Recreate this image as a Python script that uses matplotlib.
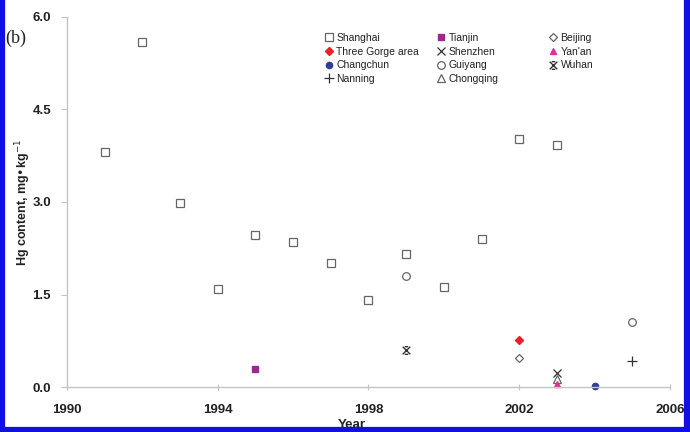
import matplotlib
matplotlib.use('Agg')
import matplotlib.pyplot as plt
from matplotlib.path import Path
from matplotlib.lines import Line2D

plt.rcParams['font.family'] = ['Liberation Sans', 'DejaVu Sans']

# Hg content (mg/kg) by city and year
shanghai_year = [1991, 1992, 1993, 1994, 1995, 1996, 1997, 1998, 1999, 2000, 2001, 2002, 2003]
shanghai_hg = [3.81, 5.59, 2.98, 1.59, 2.46, 2.35, 2.01, 1.41, 2.16, 1.62, 2.40, 4.02, 3.92]
tianjin_year, tianjin_hg = [1995], [0.29]
beijing_year, beijing_hg = [2002], [0.47]
gorge_year, gorge_hg = [2002], [0.76]
shenzhen_year, shenzhen_hg = [2003], [0.23]
yanan_year, yanan_hg = [2003], [0.05]
changchun_year, changchun_hg = [2004], [0.01]
guiyang_year, guiyang_hg = [1999, 2005], [1.80, 1.05]
wuhan_year, wuhan_hg = [1999], [0.60]
nanning_year, nanning_hg = [2005], [0.42]
chongqing_year, chongqing_hg = [2003], [0.13]

# x with short caps, like the Wuhan symbol
wuhan_marker = Path(
    [(-1, -1), (1, 1), (-1, 1), (1, -1), (-0.45, 1), (0.45, 1), (-0.45, -1), (0.45, -1)],
    [Path.MOVETO, Path.LINETO] * 4)

fig = plt.figure(figsize=(6.9, 4.32), dpi=100)
ax = fig.add_axes([0.097, 0.104, 0.874, 0.857])

gray = '#666666'
dark = '#333333'
# one list per legend column, rows read left to right
columns = [
    [('Shanghai', shanghai_year, shanghai_hg, dict(marker='s', ms=5.5, mfc='white', mec=gray, mew=0.9)),
     ('Three Gorge area', gorge_year, gorge_hg, dict(marker='D', ms=4, mfc='#e8202a', mec='#e8202a')),
     ('Changchun', changchun_year, changchun_hg, dict(marker='o', ms=4.5, mfc='#2f3f98', mec='#2f3f98')),
     ('Nanning', nanning_year, nanning_hg, dict(marker='+', ms=6.5, mec=dark, mew=0.9))],
    [('Tianjin', tianjin_year, tianjin_hg, dict(marker='s', ms=4.5, mfc='#9b2a8e', mec='#9b2a8e')),
     ('Shenzhen', shenzhen_year, shenzhen_hg, dict(marker='x', ms=5.5, mec=dark, mew=0.9)),
     ('Guiyang', guiyang_year, guiyang_hg, dict(marker='o', ms=5.5, mfc='white', mec=gray, mew=0.9)),
     ('Chongqing', chongqing_year, chongqing_hg, dict(marker='^', ms=5.5, mfc='white', mec=gray, mew=0.9))],
    [('Beijing', beijing_year, beijing_hg, dict(marker='D', ms=4.5, mfc='white', mec=gray, mew=0.9)),
     ("Yan'an", yanan_year, yanan_hg, dict(marker='^', ms=5, mfc='#e0309a', mec='#e0309a')),
     ('Wuhan', wuhan_year, wuhan_hg, dict(marker=wuhan_marker, ms=5.5, mfc='none', mec=dark, mew=1.0))],
]

legend_x = [325, 437, 549]
for col, lx in zip(columns, legend_x):
    handles = []
    for name, xs, ys, style in col:
        h, = ax.plot(xs, ys, linestyle='none', label=name, clip_on=False, **style)
        handles.append(h)
    leg = fig.legend(handles=handles, loc='upper left', bbox_to_anchor=(lx / 690, 1 - 33 / 432),
                     frameon=False, fontsize=7.5,
                     handlelength=0.8, handletextpad=0.3, labelspacing=0.35,
                     borderpad=0, borderaxespad=0)
    for t in leg.get_texts():
        t.set_color('#222222')

ax.set_xlim(1990, 2006)
ax.set_ylim(0, 6)
ax.set_xticks([1990, 1994, 1998, 2002, 2006])
ax.set_yticks([0.0, 1.5, 3.0, 4.5, 6.0])
ax.set_yticklabels(['0.0', '1.5', '3.0', '4.5', '6.0'])

for s in ['top', 'right']:
    ax.spines[s].set_visible(False)
for s in ['left', 'bottom']:
    ax.spines[s].set_color('#c4c4c4')
    ax.spines[s].set_linewidth(1.0)

ax.tick_params(axis='y', direction='out', length=4, color='#c4c4c4', pad=7.5,
               labelsize=9.5)
ax.tick_params(axis='x', direction='inout', length=5, color='#c4c4c4', pad=10,
               labelsize=9.5)
for lab in ax.get_xticklabels() + ax.get_yticklabels():
    lab.set_fontweight('bold')
    lab.set_color('#222222')

ax.set_xlabel('Year', fontsize=9.5, fontweight='bold', color='#222222')
ax.xaxis.set_label_coords(0.473, -0.085)
ax.set_ylabel('Hg content, mg•kg$^{-1}$', fontsize=9, fontweight='bold', color='#222222')
ax.yaxis.set_label_coords(-0.057, 0.5)

fig.text(0.008, 0.9, '(b)', family='Liberation Serif', fontsize=13, color='#222222')

# blue frame around the picture
blue = '#1010e0'
fig.add_artist(Line2D([0.003, 0.003], [0, 1], color=blue, lw=4.5, transform=fig.transFigure))
fig.add_artist(Line2D([0.996, 0.996], [0, 1], color=blue, lw=4.5, transform=fig.transFigure))
fig.add_artist(Line2D([0, 1], [0.005, 0.005], color=blue, lw=4.5, transform=fig.transFigure))

fig.savefig('out.png', dpi=100)
